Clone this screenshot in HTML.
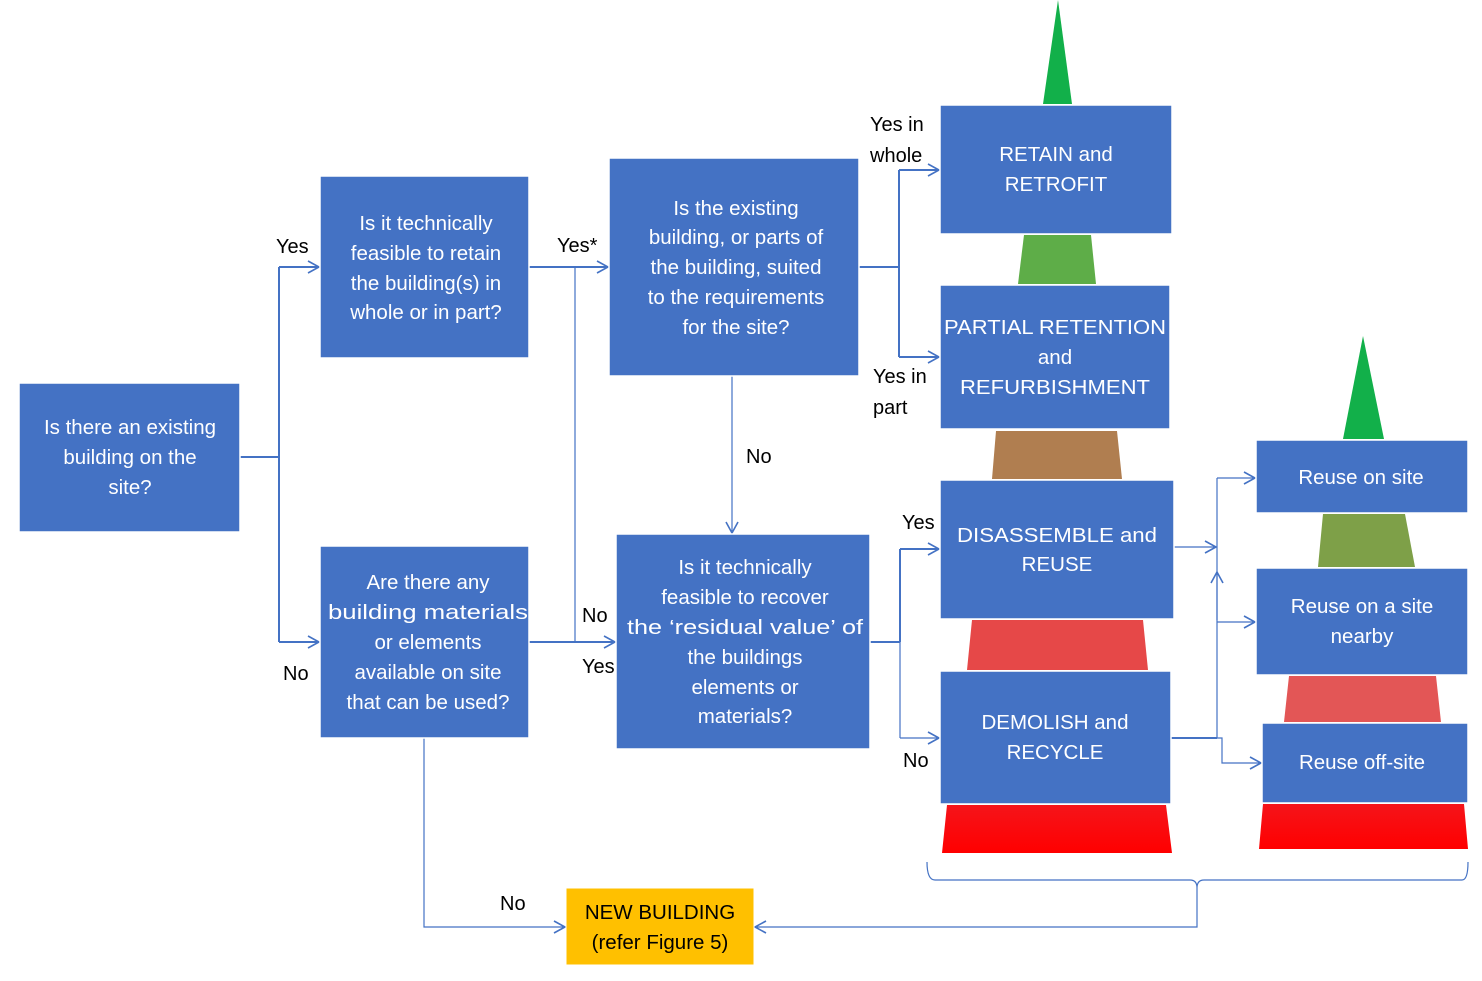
<!DOCTYPE html>
<html><head><meta charset="utf-8"><style>
html,body{margin:0;padding:0;background:#fff;}
svg{display:block;}
.b{fill:#4472C4;stroke:#fff;stroke-width:1.5;}
.t{font-family:"Liberation Sans",sans-serif;font-size:20.5px;fill:#fff;text-anchor:middle;}
.l{font-family:"Liberation Sans",sans-serif;font-size:20px;fill:#000;}
.c{stroke:#4472C4;stroke-width:2;fill:none;}
.c1{stroke:#4472C4;stroke-width:1.2;fill:none;}
</style></head><body>
<svg width="1482" height="981" viewBox="0 0 1482 981" xmlns="http://www.w3.org/2000/svg">
<defs>
<marker id="a" markerWidth="14" markerHeight="14" refX="12" refY="7" orient="auto" markerUnits="userSpaceOnUse"><path d="M1,1 L12,7 L1,13" fill="none" stroke="#4472C4" stroke-width="1.6"/></marker>
<linearGradient id="rg" x1="0" y1="0" x2="0" y2="1"><stop offset="0" stop-color="#F5141A"/><stop offset="1" stop-color="#FF0000"/></linearGradient>
</defs>
<!-- pyramid left -->
<polygon points="1058,0 1072,104 1043,104" fill="#12B04A"/>
<polygon points="1024,235 1091,235 1096,284 1018,284" fill="#5EAD48"/>
<polygon points="996,431 1117,431 1122,479 992,479" fill="#B07E50"/>
<polygon points="972,620 1143,620 1148,670 967,670" fill="#E64848"/>
<polygon points="947,805 1166,805 1172,853 942,853" fill="url(#rg)"/>
<!-- pyramid right -->
<polygon points="1363,336 1384,439 1343,439" fill="#12B04A"/>
<polygon points="1323,514 1405,514 1415,567 1318,567" fill="#7EA048"/>
<polygon points="1289,676 1436,676 1441,722 1284,722" fill="#E35656"/>
<polygon points="1263,804 1464,804 1468,849 1259,849" fill="url(#rg)"/>

<!-- connectors -->
<path class="c" d="M240,457 H279 M279,267 V642"/>
<path class="c" d="M279,267 H319" marker-end="url(#a)"/>
<path class="c" d="M279,642 H319" marker-end="url(#a)"/>
<path class="c" d="M529,267 H608" marker-end="url(#a)"/>
<path class="c1" d="M575,267 V642"/>
<path class="c" d="M529,642 H615" marker-end="url(#a)"/>
<path class="c" d="M859,267 H899 M899,170 V357"/>
<path class="c" d="M899,170 H939" marker-end="url(#a)"/>
<path class="c" d="M899,357 H939" marker-end="url(#a)"/>
<path class="c1" d="M732,376 V533" marker-end="url(#a)"/>
<path class="c" d="M870,642 H900 M900,549 V642"/>
<path class="c1" d="M900,642 V738"/>
<path class="c" d="M900,549 H939" marker-end="url(#a)"/>
<path class="c1" d="M900,738 H939" marker-end="url(#a)"/>
<path class="c1" d="M1174,547 H1216" marker-end="url(#a)"/>
<path class="c" d="M1171,738 H1217"/>
<path class="c1" d="M1217,738 V478"/>
<path class="c1" d="M1217,620 V572" marker-end="url(#a)"/>
<path class="c1" d="M1217,478 H1255" marker-end="url(#a)"/>
<path class="c1" d="M1217,622 H1255" marker-end="url(#a)"/>
<path class="c1" d="M1217,738 H1222 V763 H1261" marker-end="url(#a)"/>
<path class="c1" d="M927,862 Q927,880 935,880 H1190 Q1197,880 1197,888 Q1197,880 1204,880 H1462 Q1468,880 1468,862"/>
<path class="c1" d="M1197,888 V927 H755" marker-end="url(#a)"/>
<path class="c1" d="M424,738 V927 H565" marker-end="url(#a)"/>

<!-- boxes -->
<rect class="b" x="19" y="383" width="221" height="149"/>
<text class="t"><tspan x="130" y="434">Is there an existing</tspan><tspan x="130" y="464">building on the</tspan><tspan x="130" y="494">site?</tspan></text>
<rect class="b" x="320" y="176" width="209" height="182"/>
<text class="t"><tspan x="426" y="230">Is it technically</tspan><tspan x="426" y="260">feasible to retain</tspan><tspan x="426" y="290">the building(s) in</tspan><tspan x="426" y="319">whole or in part?</tspan></text>
<rect class="b" x="320" y="546" width="209" height="192"/>
<text class="t"><tspan x="428" y="589">Are there any</tspan><tspan x="428" y="619" textLength="200" lengthAdjust="spacingAndGlyphs">building materials</tspan><tspan x="428" y="649">or elements</tspan><tspan x="428" y="679">available on site</tspan><tspan x="428" y="709">that can be used?</tspan></text>
<rect class="b" x="609" y="158" width="250" height="218"/>
<text class="t"><tspan x="736" y="215">Is the existing</tspan><tspan x="736" y="244">building, or parts of</tspan><tspan x="736" y="274">the building, suited</tspan><tspan x="736" y="304">to the requirements</tspan><tspan x="736" y="334">for the site?</tspan></text>
<rect class="b" x="616" y="534" width="254" height="215"/>
<text class="t"><tspan x="745" y="574">Is it technically</tspan><tspan x="745" y="604">feasible to recover</tspan><tspan x="745" y="634" textLength="236" lengthAdjust="spacingAndGlyphs">the ‘residual value’ of</tspan><tspan x="745" y="664">the buildings</tspan><tspan x="745" y="694">elements or</tspan><tspan x="745" y="723">materials?</tspan></text>
<rect class="b" x="940" y="105" width="232" height="129"/>
<text class="t"><tspan x="1056" y="161">RETAIN and</tspan><tspan x="1056" y="191">RETROFIT</tspan></text>
<rect class="b" x="940" y="285" width="230" height="144"/>
<text class="t"><tspan x="1055" y="334" textLength="222" lengthAdjust="spacingAndGlyphs">PARTIAL RETENTION</tspan><tspan x="1055" y="364">and</tspan><tspan x="1055" y="394" textLength="190" lengthAdjust="spacingAndGlyphs">REFURBISHMENT</tspan></text>
<rect class="b" x="940" y="480" width="234" height="139"/>
<text class="t"><tspan x="1057" y="542" textLength="200" lengthAdjust="spacingAndGlyphs">DISASSEMBLE and</tspan><tspan x="1057" y="571">REUSE</tspan></text>
<rect class="b" x="940" y="671" width="231" height="133"/>
<text class="t"><tspan x="1055" y="729">DEMOLISH and</tspan><tspan x="1055" y="759">RECYCLE</tspan></text>
<rect class="b" x="1256" y="440" width="212" height="73"/>
<text class="t"><tspan x="1361" y="484">Reuse on site</tspan></text>
<rect class="b" x="1256" y="568" width="212" height="107"/>
<text class="t"><tspan x="1362" y="613">Reuse on a site</tspan><tspan x="1362" y="643">nearby</tspan></text>
<rect class="b" x="1262" y="723" width="206" height="80"/>
<text class="t"><tspan x="1362" y="769">Reuse off-site</tspan></text>
<rect x="566" y="888" width="188" height="77" fill="#FFC000" stroke="#fff" stroke-width="1"/>
<text class="t" style="fill:#000"><tspan x="660" y="919">NEW BUILDING</tspan><tspan x="660" y="949">(refer Figure 5)</tspan></text>

<!-- labels -->
<text class="l" x="276" y="253">Yes</text>
<text class="l" x="283" y="680">No</text>
<text class="l" x="557" y="252">Yes*</text>
<text class="l" x="582" y="622">No</text>
<text class="l" x="582" y="673">Yes</text>
<text class="l" x="870" y="131">Yes in</text>
<text class="l" x="870" y="162">whole</text>
<text class="l" x="873" y="383">Yes in</text>
<text class="l" x="873" y="414">part</text>
<text class="l" x="746" y="463">No</text>
<text class="l" x="902" y="529">Yes</text>
<text class="l" x="903" y="767">No</text>
<text class="l" x="500" y="910">No</text>
</svg>
</body></html>
